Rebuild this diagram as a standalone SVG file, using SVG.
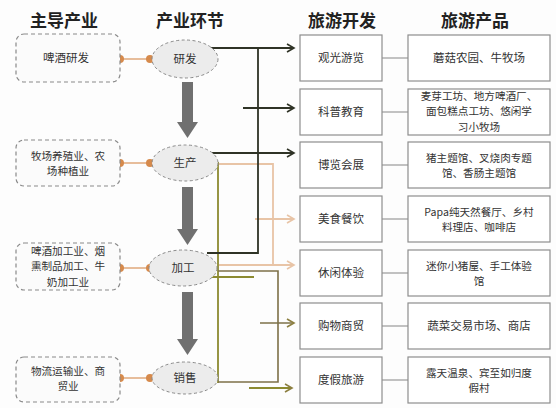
<svg xmlns="http://www.w3.org/2000/svg" width="556" height="408" viewBox="0 0 556 408">
<style>
text{font-family:"Noto Sans CJK SC","Liberation Sans",sans-serif;fill:#333;}
.hd{font-size:17px;font-weight:bold;fill:#222;text-anchor:middle;}
.t{font-size:11.5px;text-anchor:middle;}
.m{font-size:10.6px;text-anchor:middle;}
.lb{fill:#fbfbfb;stroke:#8a8a8a;stroke-width:1.2;stroke-dasharray:4 3;}
.el{fill:#ececec;stroke:#8a8a8a;stroke-width:1;stroke-dasharray:3 2.5;}
.rb{fill:#fff;stroke:#8e8e8e;stroke-width:1.2;}
.dot{fill:#d68a4c;}
.ol{stroke:#dfa77a;stroke-width:1.5;fill:none;}
.dk{stroke:#2f3326;stroke-width:1.8;fill:none;}
.pc{stroke:#e8c4a6;stroke-width:1.8;fill:none;}
.ov{stroke:#8c8a30;stroke-width:1.8;fill:none;}
.br{stroke:#7d7048;stroke-width:1.6;fill:none;}
.gl{stroke:#9a9a9a;stroke-width:1.2;fill:none;}
.ga{fill:#707070;}
</style>
<defs>
<marker id="mDk" markerWidth="10" markerHeight="10" refX="8" refY="5" orient="auto" markerUnits="userSpaceOnUse"><path d="M1,1 L8,5 L1,9" fill="none" stroke="#2f3326" stroke-width="1.6"/></marker>
<marker id="mPc" markerWidth="10" markerHeight="10" refX="8" refY="5" orient="auto" markerUnits="userSpaceOnUse"><path d="M1,1 L8,5 L1,9" fill="none" stroke="#e8c4a6" stroke-width="1.6"/></marker>
<marker id="mOv" markerWidth="10" markerHeight="10" refX="8" refY="5" orient="auto" markerUnits="userSpaceOnUse"><path d="M1,1 L8,5 L1,9" fill="none" stroke="#8c7f40" stroke-width="1.6"/></marker>
</defs>
<rect width="556" height="408" fill="#fdfdfd"/>

<g id="headers">
<text class="hd" x="64" y="27">主导产业</text>
<text class="hd" x="190" y="27">产业环节</text>
<text class="hd" x="342" y="27">旅游开发</text>
<text class="hd" x="475" y="27">旅游产品</text>
</g>

<g id="connectors">
<line class="ol" x1="120" y1="59" x2="150" y2="59"/>
<line class="ol" x1="120" y1="163" x2="150" y2="163"/>
<line class="ol" x1="120" y1="268" x2="150" y2="268"/>
<line class="ol" x1="120" y1="378" x2="150" y2="378"/>
<circle class="dot" cx="120" cy="59" r="4"/><circle class="dot" cx="150" cy="59" r="4"/>
<circle class="dot" cx="120" cy="163" r="4"/><circle class="dot" cx="150" cy="163" r="4"/>
<circle class="dot" cx="120" cy="268" r="4"/><circle class="dot" cx="150" cy="268" r="4"/>
<circle class="dot" cx="120" cy="378" r="4"/><circle class="dot" cx="150" cy="378" r="4"/>
<path class="ga" d="M182,82 H193 V122 H198 L187.5,138 L177,122 H182 Z"/>
<path class="ga" d="M182,187 H193 V229 H198 L187.5,245 L177,229 H182 Z"/>
<path class="ga" d="M182,292 H193 V339 H198 L187.5,355 L177,339 H182 Z"/>
<polyline class="pc" points="219,164 273,164 273,265"/>
<line class="pc" x1="255" y1="219" x2="294" y2="219" marker-end="url(#mPc)"/>
<line class="pc" x1="219" y1="265" x2="294" y2="265" marker-end="url(#mPc)"/>
<line class="ov" x1="218" y1="162" x2="218" y2="383"/>
<polyline class="br" points="218,271 278,271 278,382 218,382"/>
<line class="ov" x1="208" y1="277" x2="254" y2="277"/>
<line class="br" x1="260" y1="323" x2="294" y2="323" marker-end="url(#mOv)"/>
<line class="ov" x1="249" y1="388" x2="292" y2="388" marker-end="url(#mOv)"/>
<line class="dk" x1="208" y1="48" x2="294" y2="48" marker-end="url(#mDk)"/>
<polyline class="dk" points="258,48 258,253 207,253"/>
<line class="dk" x1="243" y1="108" x2="294" y2="108" marker-end="url(#mDk)"/>
<line class="dk" x1="212" y1="153" x2="294" y2="153" marker-end="url(#mDk)"/>
<line class="gl" x1="382" y1="58" x2="408" y2="58"/>
<line class="gl" x1="382" y1="112" x2="408" y2="112"/>
<line class="gl" x1="382" y1="165" x2="408" y2="165"/>
<line class="gl" x1="382" y1="219" x2="408" y2="219"/>
<line class="gl" x1="382" y1="273" x2="408" y2="273"/>
<line class="gl" x1="382" y1="326" x2="408" y2="326"/>
<line class="gl" x1="382" y1="380" x2="408" y2="380"/>
</g>

<g id="ind1"><rect class="lb" x="16" y="34" width="104" height="48" rx="8"/><text class="t" x="66" y="62">啤酒研发</text></g>
<g id="ind2"><rect class="lb" x="16" y="140" width="104" height="46" rx="8"/><text class="m" x="68" y="160">牧场养殖业、农</text><text class="m" x="68" y="175.4">场种植业</text></g>
<g id="ind3"><rect class="lb" x="16" y="243" width="104" height="47" rx="8"/><text class="m" x="68" y="255">啤酒加工业、烟</text><text class="m" x="68" y="270.4">熏制品加工、牛</text><text class="m" x="68" y="285.8">奶加工业</text></g>
<g id="ind4"><rect class="lb" x="16" y="357" width="104" height="45" rx="8"/><text class="m" x="68" y="375">物流运输业、商</text><text class="m" x="68" y="390.4">贸业</text></g>

<g id="stage1"><ellipse class="el" cx="185" cy="59" rx="33" ry="19"/><text class="t" x="185" y="63">研发</text></g>
<g id="stage2"><ellipse class="el" cx="185" cy="163" rx="33" ry="18"/><text class="t" x="185" y="167">生产</text></g>
<g id="stage3"><ellipse class="el" cx="183" cy="268" rx="34" ry="18"/><text class="t" x="183" y="272">加工</text></g>
<g id="stage4"><ellipse class="el" cx="185" cy="378" rx="33" ry="16"/><text class="t" x="185" y="382">销售</text></g>

<g id="dev1"><rect class="rb" x="300" y="35" width="82" height="46"/><text class="t" x="341" y="62">观光游览</text></g>
<g id="dev2"><rect class="rb" x="300" y="89" width="82" height="46"/><text class="t" x="341" y="116">科普教育</text></g>
<g id="dev3"><rect class="rb" x="300" y="142" width="82" height="46"/><text class="t" x="341" y="169">博览会展</text></g>
<g id="dev4"><rect class="rb" x="300" y="196" width="82" height="46"/><text class="t" x="341" y="223">美食餐饮</text></g>
<g id="dev5"><rect class="rb" x="300" y="250" width="82" height="46"/><text class="t" x="341" y="277">休闲体验</text></g>
<g id="dev6"><rect class="rb" x="300" y="303" width="82" height="46"/><text class="t" x="341" y="330">购物商贸</text></g>
<g id="dev7"><rect class="rb" x="300" y="357" width="82" height="46"/><text class="t" x="341" y="384">度假旅游</text></g>

<g id="prod1"><rect class="rb" x="408" y="35" width="142" height="46"/><text class="t" x="479" y="62">蘑菇农园、牛牧场</text></g>
<g id="prod2"><rect class="rb" x="408" y="89" width="142" height="46"/><text class="m" x="479" y="100">麦芽工坊、地方啤酒厂、</text><text class="m" x="479" y="115.4">面包糕点工坊、悠闲学</text><text class="m" x="479" y="130.8">习小牧场</text></g>
<g id="prod3"><rect class="rb" x="408" y="142" width="142" height="46"/><text class="m" x="479" y="161.5">猪主题馆、叉烧肉专题</text><text class="m" x="479" y="176.9">馆、香肠主题馆</text></g>
<g id="prod4"><rect class="rb" x="408" y="196" width="142" height="46"/><text class="m" x="479" y="215.5">Papa纯天然餐厅、乡村</text><text class="m" x="479" y="230.9">料理店、咖啡店</text></g>
<g id="prod5"><rect class="rb" x="408" y="250" width="142" height="46"/><text class="m" x="479" y="269.5">迷你小猪屋、手工体验</text><text class="m" x="479" y="284.9">馆</text></g>
<g id="prod6"><rect class="rb" x="408" y="303" width="142" height="46"/><text class="t" x="479" y="330">蔬菜交易市场、商店</text></g>
<g id="prod7"><rect class="rb" x="408" y="357" width="142" height="46"/><text class="m" x="479" y="376.5">露天温泉、宾至如归度</text><text class="m" x="479" y="391.9">假村</text></g>
</svg>
